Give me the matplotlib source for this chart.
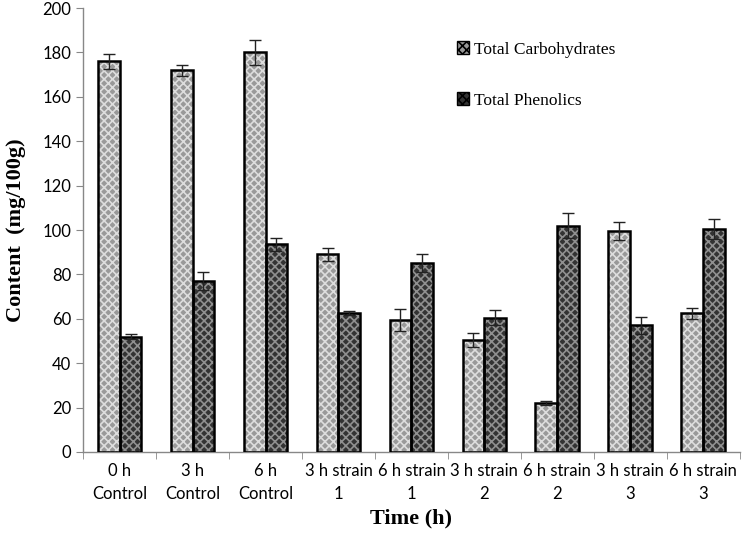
import matplotlib.pyplot as plt
import numpy as np

categories = ["0 h\nControl", "3 h\nControl", "6 h\nControl", "3 h strain\n1", "6 h strain\n1",
              "3 h strain\n2", "6 h strain\n2", "3 h strain\n3", "6 h strain\n3"]
carbs = [176, 172, 180, 89, 59.5, 50.5, 22, 99.5, 62.5]
carbs_err = [3.5, 2.5, 5.5, 3, 5, 3, 1, 4, 2.5]
phenolics = [52, 77, 93.5, 62.5, 85, 60.5, 102, 57, 100.5]
phenolics_err = [1, 4, 3, 1, 4, 3.5, 5.5, 4, 4.5]

fig = plt.figure(figsize=(7.42, 5.4), dpi=100)
ax = fig.add_axes([0.112, 0.163, 0.885, 0.822])

x = np.arange(len(categories))
w = 0.3

def hatched_bar(xpos, vals, err, face, hatchcol, label):
    plt.rcParams['hatch.linewidth'] = 1.2
    ax.bar(xpos, vals, w, color=face, edgecolor=hatchcol, linewidth=0, hatch='xxxx', zorder=2)
    ax.bar(xpos, vals, w, fill=False, edgecolor='black', linewidth=1.8, zorder=3)
    ax.errorbar(xpos, vals, yerr=err, fmt='none', ecolor='#222222', elinewidth=1, capsize=4, capthick=1, zorder=4)
    # legend proxy
    ax.bar([0], [0], w, color=face, edgecolor='black', hatch='xxxx', linewidth=1, label=label)

hatched_bar(x - w/2, carbs, carbs_err, '#999999', '#dddddd', 'Total Carbohydrates')
hatched_bar(x + w/2, phenolics, phenolics_err, '#333333', '#909090', 'Total Phenolics')

ax.set_xlim(-0.5, len(categories) - 0.5)
ax.set_ylim(0, 200)
ax.set_yticks(range(0, 201, 20))
ax.set_xticks(x)
ax.set_xticklabels(categories, fontsize=12, family='Lato', linespacing=1.5)
ax.set_xticks(np.arange(-0.5, len(categories) - 0.4, 1), minor=True)
ax.tick_params(axis='x', which='major', length=0, pad=8)
ax.tick_params(axis='x', which='minor', length=5, color='#888888')
ax.tick_params(axis='y', length=5, color='#888888', labelsize=12)
for t in ax.get_yticklabels():
    t.set_family('Lato')

for s in ['top', 'right']:
    ax.spines[s].set_visible(False)
for s in ['left', 'bottom']:
    ax.spines[s].set_color('#888888')
    ax.spines[s].set_linewidth(1)

ax.set_xlabel("Time (h)", family='Liberation Serif', fontweight='bold', fontsize=16, labelpad=5)
ax.set_ylabel("Content  (mg/100g)", family='Liberation Serif', fontweight='bold', fontsize=16, labelpad=12)

ax.legend(loc='upper left', bbox_to_anchor=(0.545, 0.96), frameon=False,
          prop={'family': 'Liberation Serif', 'size': 12.5}, handlelength=0.7, handleheight=0.7,
          handletextpad=0.3, labelspacing=2.0)

fig.savefig("out.png", dpi=100)
